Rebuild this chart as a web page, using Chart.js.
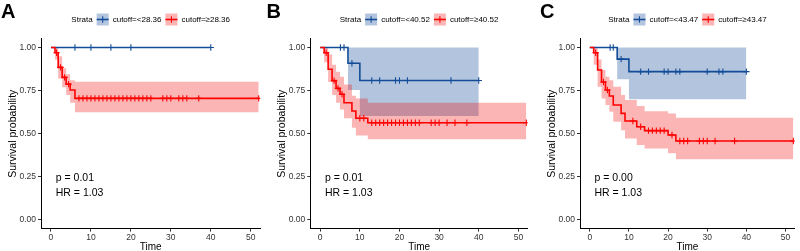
<!DOCTYPE html>
<html><head><meta charset="utf-8">
<script src="https://cdn.jsdelivr.net/npm/chart.js@4.4.1/dist/chart.umd.min.js"></script>
<style>
html,body{margin:0;padding:0;background:#fff;overflow:hidden;}
#wrap{position:relative;width:800px;height:251px;background:#fff;}
canvas{position:absolute;top:0;}
</style></head><body>
<div id="wrap">
<canvas id="cA" width="266" height="251" style="left:0px"></canvas>
<canvas id="cB" width="267" height="251" style="left:266px"></canvas>
<canvas id="cC" width="267" height="251" style="left:533px"></canvas>
</div>
<script>
// ---- shared axis ticks ----
const timeTicks = [0, 10, 20, 30, 40, 50];
const survTicks = [0, 0.25, 0.5, 0.75, 1];

// ---- Panel A ----
const aLowLabel = 'cutoff=<28.36';
const aHighLabel = 'cutoff=\u226528.36';
const aLowTime = [0, 40];
const aLowSurv = [1, 1];
const aLowUpper = [1, 1];
const aLowLower = [1, 1];
const aLowCensor = [6, 10, 15, 20, 40];
const aHighTime = [0, 1, 1.8, 2.8, 3.8, 4.8, 6, 52];
const aHighSurv = [1, 0.97, 0.885, 0.827, 0.788, 0.754, 0.705, 0.705];
const aHighUpper = [1, 1, 0.95, 0.88, 0.845, 0.81, 0.802, 0.802];
const aHighLower = [1, 0.93, 0.82, 0.77, 0.725, 0.68, 0.624, 0.624];
const aHighCensor = [1.4, 2.4, 3.4, 4.4, 7, 8, 9, 10, 11, 12, 13, 14, 15, 16, 17, 18, 19, 20, 21, 22, 23, 24, 25, 28, 29, 30, 32, 33, 34, 37, 52];
const aStats = ['p = 0.01', 'HR = 1.03'];

// ---- Panel B ----
const bLowLabel = 'cutoff=<40.52';
const bHighLabel = 'cutoff=\u226540.52';
const bLowTime = [0, 7, 10, 40];
const bLowSurv = [1, 0.909, 0.809, 0.809];
const bLowUpper = [1, 1, 1, 1];
const bLowLower = [1, 0.754, 0.603, 0.603];
const bLowCensor = [5.1, 6, 8, 13, 15, 19, 20, 22, 33, 40];
const bHighTime = [0, 1, 2, 3, 4, 5, 6, 8, 9, 12, 52];
const bHighSurv = [1, 0.97, 0.874, 0.808, 0.763, 0.729, 0.68, 0.632, 0.59, 0.564, 0.564];
const bHighUpper = [1, 1, 0.96, 0.9, 0.86, 0.83, 0.785, 0.72, 0.705, 0.68, 0.68];
const bHighLower = [1, 0.915, 0.8, 0.725, 0.68, 0.64, 0.59, 0.535, 0.49, 0.468, 0.468];
const bHighCensor = [1.5, 3.5, 4.5, 5.5, 10, 11, 13, 14, 15, 16, 17, 18, 19, 20, 21, 22, 23, 24, 25, 28, 29, 30, 32, 34, 37, 52];
const bStats = ['p = 0.01', 'HR = 1.03'];

// ---- Panel C ----
const cLowLabel = 'cutoff=<43.47';
const cHighLabel = 'cutoff=\u226543.47';
const cLowTime = [0, 7, 10, 40];
const cLowSurv = [1, 0.933, 0.86, 0.86];
const cLowUpper = [1, 1, 1, 1];
const cLowLower = [1, 0.816, 0.7, 0.7];
const cLowCensor = [5.2, 6, 8, 13, 15, 19, 20, 22, 23, 30, 33, 34, 40];
const cHighTime = [0, 1, 2, 3, 4, 5, 6, 8, 9, 12, 14, 20, 22, 52];
const cHighSurv = [1, 0.97, 0.87, 0.8, 0.754, 0.719, 0.667, 0.618, 0.574, 0.541, 0.518, 0.493, 0.458, 0.458];
const cHighUpper = [1, 1, 0.93, 0.87, 0.83, 0.81, 0.773, 0.725, 0.696, 0.661, 0.63, 0.618, 0.593, 0.593];
const cHighLower = [1, 0.9, 0.773, 0.705, 0.667, 0.628, 0.57, 0.52, 0.473, 0.435, 0.415, 0.387, 0.352, 0.352];
const cHighCensor = [1.5, 3.5, 4.5, 11, 13, 15, 16, 17, 18, 19, 21, 23, 24, 25, 28, 29, 30, 32, 37, 52];
const cStats = ['p = 0.00', 'HR = 1.03'];

// ---- styling ----
const FONT = '"Liberation Sans", Arial, Helvetica, sans-serif';
const BLUE = 'rgb(18,76,152)';
const BLUE_BAND = 'rgba(18,76,152,0.32)';
const RED = 'rgb(255,0,0)';
const RED_BAND = 'rgba(240,0,0,0.29)';

function pts(t, v) { return t.map((x, i) => ({x: x, y: v[i]})); }
function stepAt(t, v, x) {
  let k = 0;
  for (let i = 0; i < t.length; i++) if (t[i] <= x) k = i;
  return v[k];
}
function censorPts(c, t, v) { return c.map(x => ({x: x, y: stepAt(t, v, x)})); }

const annot = {
  id: 'annot',
  afterDraw(chart, args, o) {
    const {ctx, chartArea, scales} = chart;
    const x = scales.x, y = scales.y;
    ctx.save();
    // panel letter
    ctx.fillStyle = '#000';
    ctx.textAlign = 'left';
    ctx.textBaseline = 'alphabetic';
    ctx.font = 'bold 20px ' + FONT;
    ctx.fillText(o.letter, o.letterX, 17.5);
    // stats text
    ctx.font = '10.5px ' + FONT;
    ctx.textBaseline = 'middle';
    ctx.fillText(o.stats[0], x.getPixelForValue(1.2), y.getPixelForValue(0.243));
    ctx.fillText(o.stats[1], x.getPixelForValue(1.2), y.getPixelForValue(0.155));
    // legend
    ctx.font = '8px ' + FONT;
    const wS = ctx.measureText('Strata').width;
    const w1 = ctx.measureText(o.lowLabel).width;
    const w2 = ctx.measureText(o.highLabel).width;
    const key = 12, gap = 4;
    const total = wS + gap + key + gap + w1 + gap + key + gap + w2;
    let cx = (chartArea.left + chartArea.right) / 2 - total / 2;
    const cy = 19.5;
    ctx.fillStyle = '#000';
    ctx.fillText('Strata', cx, cy);
    cx += wS + gap;
    const drawKey = (band, line) => {
      ctx.fillStyle = '#fff';
      ctx.fillRect(cx, cy - 6, key, 12);
      ctx.fillStyle = band;
      ctx.fillRect(cx, cy - 6, key, 12);
      ctx.strokeStyle = line;
      ctx.lineWidth = 1.6;
      ctx.beginPath();
      ctx.moveTo(cx, cy); ctx.lineTo(cx + key, cy);
      ctx.stroke();
      ctx.lineWidth = 1.1;
      ctx.beginPath();
      ctx.moveTo(cx + key / 2, cy - 3.2); ctx.lineTo(cx + key / 2, cy + 3.2);
      ctx.stroke();
    };
    drawKey(BLUE_BAND, BLUE);
    cx += key + gap;
    ctx.fillStyle = '#000';
    ctx.fillText(o.lowLabel, cx, cy);
    cx += w1 + gap;
    drawKey(RED_BAND, RED);
    cx += key + gap;
    ctx.fillStyle = '#000';
    ctx.fillText(o.highLabel, cx, cy);
    ctx.restore();
  }
};

function makePanel(id, cfg) {
  const bandDs = (t, up, lo, color, ord) => ([
    {data: pts(t, up), stepped: 'before', borderWidth: 0, borderColor: 'rgba(0,0,0,0)', pointRadius: 0,
     fill: '+1', backgroundColor: color, order: ord},
    {data: pts(t, lo), stepped: 'before', borderWidth: 0, borderColor: 'rgba(0,0,0,0)', pointRadius: 0,
     fill: false, order: ord}
  ]);
  const lineDs = (t, v, color, ord) => ({data: pts(t, v), stepped: 'before', borderColor: color, borderWidth: 1.6,
     pointRadius: 0, fill: false, order: ord});
  const censDs = (c, t, v, color, ord) => ({data: censorPts(c, t, v), showLine: false, pointStyle: 'cross',
     pointRadius: 3.2, pointBorderWidth: 1.1, pointBorderColor: color, borderColor: color, order: ord});
  const datasets = [
    ...bandDs(cfg.lowTime, cfg.lowUpper, cfg.lowLower, BLUE_BAND, 10),
    ...bandDs(cfg.highTime, cfg.highUpper, cfg.highLower, RED_BAND, 9),
    lineDs(cfg.lowTime, cfg.lowSurv, BLUE, 6),
    lineDs(cfg.highTime, cfg.highSurv, RED, 5),
    censDs(cfg.lowCensor, cfg.lowTime, cfg.lowSurv, BLUE, 4),
    censDs(cfg.highCensor, cfg.highTime, cfg.highSurv, RED, 3)
  ];
  return new Chart(document.getElementById(id), {
    type: 'line',
    data: {datasets},
    plugins: [annot],
    options: {
      responsive: false, animation: false, devicePixelRatio: 1,
      layout: {padding: {left: cfg.padL, right: cfg.padR, top: 38.9, bottom: 0}},
      plugins: {legend: {display: false}, tooltip: {enabled: false},
        annot: {letter: cfg.letter, letterX: cfg.letterX, stats: cfg.stats, lowLabel: cfg.lowLabel, highLabel: cfg.highLabel}},
      scales: {
        x: {
          type: 'linear', min: -2.5, max: 52.4,
          afterBuildTicks: s => { s.ticks = timeTicks.map(v => ({value: v})); },
          afterFit: s => { s.height = 22.4; },
          grid: {drawOnChartArea: false, tickLength: 3, color: '#333', lineWidth: 1},
          border: {display: true, color: '#000', width: 1},
          ticks: {font: {family: FONT, size: 8.5}, color: '#333', padding: 1, maxRotation: 0, autoSkip: false,
                  callback: v => String(v)},
          title: {display: true, text: 'Time', color: '#000', font: {family: FONT, size: 10, lineHeight: 1},
                  padding: {top: 0, bottom: -1}}
        },
        y: {
          type: 'linear', min: -0.05, max: 1.05,
          afterBuildTicks: s => { s.ticks = survTicks.map(v => ({value: v})); },
          afterFit: s => { s.width = 41; },
          grid: {drawOnChartArea: false, tickLength: 3, color: '#333', lineWidth: 1},
          border: {display: true, color: '#000', width: 1},
          ticks: {font: {family: FONT, size: 8.5}, color: '#333', padding: 2, autoSkip: false,
                  callback: v => Number(v).toFixed(2)},
          title: {display: true, text: 'Survival probability', color: '#000', font: {family: FONT, size: 10.5, lineHeight: 1},
                  padding: {top: 7.75, bottom: 0}}
        }
      }
    }
  });
}

makePanel('cA', {letter: 'A', letterX: 1, padL: 0, padR: 5.7, stats: aStats, lowLabel: aLowLabel, highLabel: aHighLabel,
  lowTime: aLowTime, lowSurv: aLowSurv, lowUpper: aLowUpper, lowLower: aLowLower, lowCensor: aLowCensor,
  highTime: aHighTime, highSurv: aHighSurv, highUpper: aHighUpper, highLower: aHighLower, highCensor: aHighCensor});
makePanel('cB', {letter: 'B', letterX: 0.5, padL: 3.3, padR: 3.4, stats: bStats, lowLabel: bLowLabel, highLabel: bHighLabel,
  lowTime: bLowTime, lowSurv: bLowSurv, lowUpper: bLowUpper, lowLower: bLowLower, lowCensor: bLowCensor,
  highTime: bHighTime, highSurv: bHighSurv, highUpper: bHighUpper, highLower: bHighLower, highCensor: bHighCensor});
makePanel('cC', {letter: 'C', letterX: 7, padL: 6, padR: 0.7, stats: cStats, lowLabel: cLowLabel, highLabel: cHighLabel,
  lowTime: cLowTime, lowSurv: cLowSurv, lowUpper: cLowUpper, lowLower: cLowLower, lowCensor: cLowCensor,
  highTime: cHighTime, highSurv: cHighSurv, highUpper: cHighUpper, highLower: cHighLower, highCensor: cHighCensor});
</script>
</body></html>
